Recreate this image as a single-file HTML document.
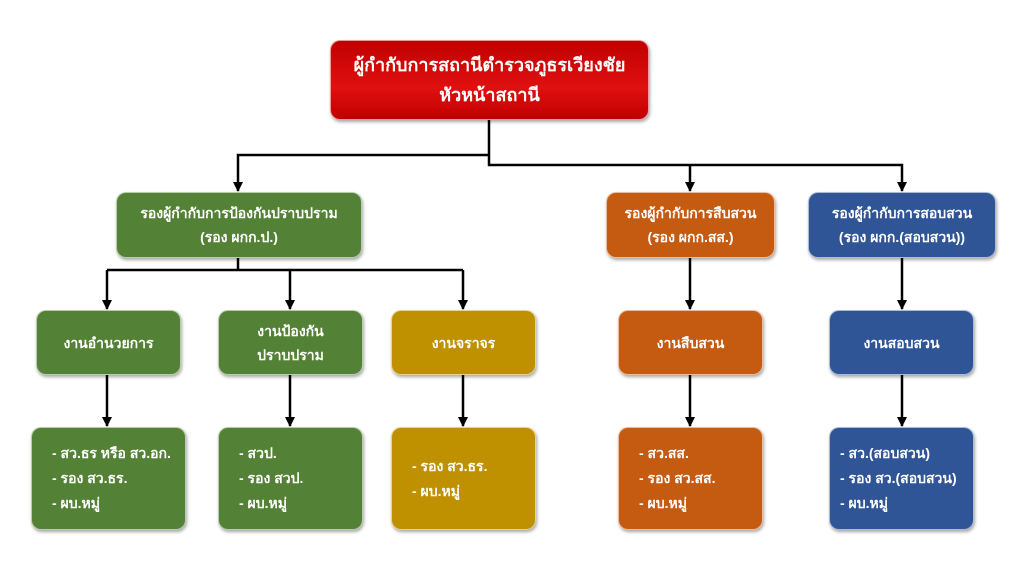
<!DOCTYPE html>
<html><head><meta charset="utf-8"><style>
body{margin:0;width:1024px;height:576px;background:#fff;position:relative;overflow:hidden;font-family:"Liberation Sans","DejaVu Sans",sans-serif;}
.b{position:absolute;border-radius:10px;color:#fff;display:flex;flex-direction:column;justify-content:center;align-items:center;text-align:center;font-size:14px;line-height:24px;font-weight:bold;box-shadow:1px 2px 3px rgba(0,0,0,.35);border:1px solid rgba(255,255,255,.6);box-sizing:border-box}
.g{background:#538135}.y{background:#bf9000}.o{background:#c55a11}.u{background:#2f5597}
.l{align-items:flex-start;text-align:left;padding-left:20px;line-height:25px}
svg{position:absolute;left:0;top:0}
</style></head><body>
<svg width="1024" height="576">
<defs><marker id="a" markerWidth="10" markerHeight="10" refX="5" refY="9" markerUnits="userSpaceOnUse"><path d="M0,0 L10,0 L5,10 z" fill="#000"/></marker></defs>
<g stroke="#000" stroke-width="2.5" fill="none">
<path d="M489,120 V165 H902 V191" marker-end="url(#a)"/>
<path d="M489,155 H238 V191" marker-end="url(#a)"/>
<path d="M690,165 V191" marker-end="url(#a)"/>
<path d="M238,258 V270 M107,270 H463"/>
<path d="M107,270 V309" marker-end="url(#a)"/>
<path d="M290,270 V309" marker-end="url(#a)"/>
<path d="M463,270 V309" marker-end="url(#a)"/>
<path d="M690,258 V309" marker-end="url(#a)"/>
<path d="M902,258 V309" marker-end="url(#a)"/>
<path d="M107,375 V426" marker-end="url(#a)"/>
<path d="M290,375 V426" marker-end="url(#a)"/>
<path d="M463,375 V426" marker-end="url(#a)"/>
<path d="M690,375 V426" marker-end="url(#a)"/>
<path d="M902,375 V426" marker-end="url(#a)"/>
</g></svg>
<div class="b" style="left:330px;top:40px;width:319px;height:80px;background:linear-gradient(#c00000,#e01010 60%,#c00000);font-size:18px;line-height:30px">ผู้กำกับการสถานีตำรวจภูธรเวียงชัย<br>หัวหน้าสถานี</div>
<div class="b g" style="left:116px;top:192px;width:246px;height:66px">รองผู้กำกับการป้องกันปราบปราม<br>(รอง ผกก.ป.)</div>
<div class="b o" style="left:606px;top:192px;width:169px;height:66px">รองผู้กำกับการสืบสวน<br>(รอง ผกก.สส.)</div>
<div class="b u" style="left:808px;top:192px;width:188px;height:66px">รองผู้กำกับการสอบสวน<br>(รอง ผกก.(สอบสวน))</div>
<div class="b g" style="left:36px;top:310px;width:145px;height:65px">งานอำนวยการ</div>
<div class="b g" style="left:218px;top:310px;width:145px;height:65px">งานป้องกัน<br>ปราบปราม</div>
<div class="b y" style="left:391px;top:310px;width:145px;height:65px">งานจราจร</div>
<div class="b o" style="left:618px;top:310px;width:145px;height:65px">งานสืบสวน</div>
<div class="b u" style="left:829px;top:310px;width:145px;height:65px">งานสอบสวน</div>
<div class="b g l" style="left:31px;top:427px;width:155px;height:103px">- สว.ธร หรือ สว.อก.<br>- รอง สว.ธร.<br>- ผบ.หมู่</div>
<div class="b g l" style="left:218px;top:427px;width:145px;height:103px">- สวป.<br>- รอง สวป.<br>- ผบ.หมู่</div>
<div class="b y l" style="left:391px;top:427px;width:145px;height:103px">- รอง สว.ธร.<br>- ผบ.หมู่</div>
<div class="b o l" style="left:618px;top:427px;width:145px;height:103px">- สว.สส.<br>- รอง สว.สส.<br>- ผบ.หมู่</div>
<div class="b u l" style="left:829px;top:427px;width:145px;height:103px;padding-left:10px">- สว.(สอบสวน)<br>- รอง สว.(สอบสวน)<br>- ผบ.หมู่</div>
</body></html>
